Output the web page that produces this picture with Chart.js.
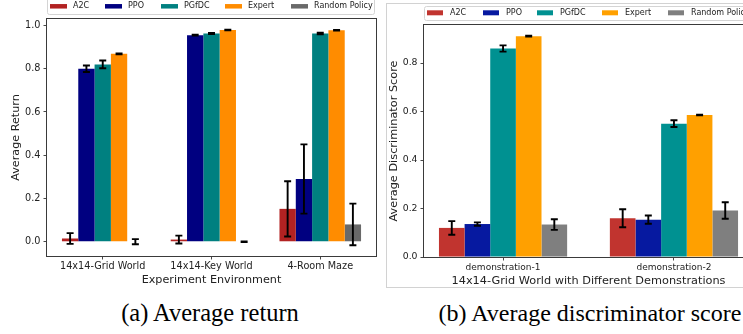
<!DOCTYPE html>
<html><head><meta charset="utf-8">
<script src="https://cdn.jsdelivr.net/npm/chart.js@4/dist/chart.umd.min.js"></script>
<style>
html,body{margin:0;padding:0;background:#fff;overflow:hidden;width:743px;height:334px;position:relative;}
#c1{position:absolute;left:0;top:0;}
#c2{position:absolute;left:386px;top:0;}
.cap{position:absolute;top:299px;line-height:28px;font-family:"Liberation Serif","Times New Roman",serif;font-size:24px;color:#000;white-space:nowrap;transform:translateX(-50%);}
</style></head><body>
<canvas id="c1" width="380" height="295"></canvas>
<canvas id="c2" width="374" height="295"></canvas>
<div class="cap" style="left:210px;font-size:24.5px">(a) Average return</div>
<div class="cap" style="left:590px">(b) Average discriminator score</div>
<script>
// ---------- data ----------
const methods = ['A2C', 'PPO', 'PGfDC', 'Expert', 'Random Policy'];

// (a) Average return
const envLabels = ['14x14-Grid World', '14x14-Key World', '4-Room Maze'];
const returnA2C     = [0.015, 0.010, 0.152];
const returnPPO     = [0.800, 0.955, 0.290];
const returnPGfDC   = [0.820, 0.963, 0.963];
const returnExpert  = [0.869, 0.979, 0.978];
const returnRandom  = [0.000, 0.000, 0.080];
const returnA2CErr    = [0.025, 0.018, 0.128];
const returnPPOErr    = [0.015, 0.002, 0.160];
const returnPGfDCErr  = [0.018, 0.003, 0.004];
const returnExpertErr = [0.002, 0.001, 0.001];
const returnRandomErr = [0.012, 0.001, 0.096];
const returnTicks = [0.0, 0.2, 0.4, 0.6, 0.8, 1.0];

// (b) Average discriminator score
const demoLabels = ['demonstration-1', 'demonstration-2'];
const scoreA2C    = [0.120, 0.160];
const scorePPO    = [0.136, 0.154];
const scorePGfDC  = [0.860, 0.550];
const scoreExpert = [0.911, 0.586];
const scoreRandom = [0.134, 0.192];
const scoreA2CErr    = [0.028, 0.037];
const scorePPOErr    = [0.007, 0.017];
const scorePGfDCErr  = [0.013, 0.014];
const scoreExpertErr = [0.002, 0.001];
const scoreRandomErr = [0.022, 0.034];
const scoreTicks = [0.0, 0.2, 0.4, 0.6, 0.8];

const colorsA = ['#b22222', '#000080', '#008080', '#ff8c00', '#696969'];
const colorsB = ['#c1342f', '#0619a0', '#009191', '#ffa000', '#7f7f7f'];

// ---------- helpers ----------
Chart.defaults.font.family = '"DejaVu Sans", sans-serif';
Chart.defaults.color = '#222';

function mkDatasets(series, errs, colors) {
  return series.map((vals, k) => ({
    label: methods[k],
    data: vals.map((v, i) => ({x: i, y: v})),
    errors: errs[k],
    backgroundColor: colors[k],
    borderWidth: 0,
    categoryPercentage: 0.75,
    barPercentage: 1.0
  }));
}

const errorBarPlugin = {
  id: 'errbars',
  afterDatasetsDraw(chart, args, o) {
    const ctx = chart.ctx, yS = chart.scales.y;
    ctx.save();
    ctx.strokeStyle = '#000';
    ctx.lineWidth = o.lw;
    chart.data.datasets.forEach((ds, di) => {
      const meta = chart.getDatasetMeta(di);
      meta.data.forEach((bar, i) => {
        const v = ds.data[i].y, e = ds.errors[i];
        const x = bar.x;
        const yt = yS.getPixelForValue(v + e), yb = yS.getPixelForValue(v - e);
        ctx.beginPath();
        ctx.moveTo(x, yt); ctx.lineTo(x, yb);
        ctx.moveTo(x - o.cap, yt); ctx.lineTo(x + o.cap, yt);
        ctx.moveTo(x - o.cap, yb); ctx.lineTo(x + o.cap, yb);
        ctx.stroke();
      });
    });
    ctx.restore();
  }
};

const framePlugin = {
  id: 'frame',
  beforeDraw(chart, args, o) {
    if (o.fig) {
      const ctx = chart.ctx;
      ctx.save();
      ctx.strokeStyle = '#d2d2d2';
      ctx.lineWidth = 1;
      ctx.strokeRect(o.fig.x + 0.5, o.fig.y + 0.5, o.fig.w, o.fig.h);
      ctx.restore();
    }
  },
  afterDraw(chart, args, o) {
    const ctx = chart.ctx, a = chart.chartArea;
    ctx.save();
    ctx.strokeStyle = '#3a3a3a';
    ctx.lineWidth = 1;
    ctx.strokeRect(Math.round(a.left) - 0.5, Math.round(a.top) - 0.5, a.right - a.left + 1, a.bottom - a.top + 1);
    ctx.restore();
  }
};

const legendPlugin = {
  id: 'mplLegend',
  afterDraw(chart, args, o) {
    const ctx = chart.ctx;
    ctx.save();
    ctx.beginPath();
    if (ctx.roundRect) ctx.roundRect(o.x + 0.5, o.y + 0.5, o.w, o.h, 2);
    else ctx.rect(o.x + 0.5, o.y + 0.5, o.w, o.h);
    ctx.fillStyle = 'rgba(255,255,255,0.85)';
    ctx.fill();
    ctx.strokeStyle = '#d4d4d4';
    ctx.lineWidth = 1;
    ctx.stroke();
    ctx.font = o.fontSize + 'px "DejaVu Sans"';
    ctx.textBaseline = 'middle';
    ctx.textAlign = 'left';
    chart.data.datasets.forEach((ds, i) => {
      const px = o.x + o.offsets[i];
      ctx.fillStyle = ds.backgroundColor;
      ctx.fillRect(px, o.cy - o.ph / 2, o.pw, o.ph);
      ctx.fillStyle = '#222';
      ctx.fillText(ds.label, px + o.pw + o.gap, o.cy);
    });
    ctx.restore();
  }
};

function mkChart(canvas, cfg) {
  return new Chart(canvas, {
    type: 'bar',
    data: {datasets: cfg.datasets},
    plugins: [errorBarPlugin, framePlugin, legendPlugin],
    options: {
      responsive: false,
      animation: false,
      devicePixelRatio: 1,
      layout: {autoPadding: false, padding: cfg.padding},
      plugins: {
        legend: {display: false},
        tooltip: {enabled: false},
        errbars: {lw: 1.9, cap: 3.5},
        frame: {fig: cfg.fig || null},
        mplLegend: cfg.legend
      },
      scales: {
        x: {
          type: 'linear',
          offset: false,
          min: cfg.xmin, max: cfg.xmax,
          afterBuildTicks: (s) => { s.ticks = cfg.xLabels.map((_, i) => ({value: i})); },
          afterFit: (s) => { s.height = cfg.xHeight; },
          grid: {display: true, offset: false, drawOnChartArea: false, drawTicks: true, tickLength: 3.5, color: '#333', lineWidth: 0.9},
          border: {display: false},
          ticks: {
            autoSkip: false, maxRotation: 0, minRotation: 0,
            padding: cfg.xTickPad,
            font: {size: cfg.xTickSize},
            color: '#222',
            callback: (v) => cfg.xLabels[v]
          },
          title: {display: true, text: cfg.xTitle, font: {size: cfg.titleSize}, color: '#222', padding: {top: 0, bottom: cfg.xTitlePad}}
        },
        y: {
          type: 'linear',
          min: cfg.ymin, max: cfg.ymax,
          afterBuildTicks: (s) => { s.ticks = cfg.yTicks.map(v => ({value: v})); },
          afterFit: (s) => { s.width = cfg.yWidth; },
          grid: {display: true, drawOnChartArea: false, drawTicks: true, tickLength: 3.5, color: '#333', lineWidth: 0.9},
          border: {display: false},
          ticks: {padding: 3, font: {size: cfg.yTickSize}, color: '#222', callback: (v) => Number(v).toFixed(1)},
          title: {display: true, text: cfg.yTitle, font: {size: cfg.titleSize}, color: '#222', padding: {top: cfg.yTitlePad, bottom: cfg.yTitlePad}}
        }
      }
    }
  });
}

mkChart(document.getElementById('c1'), {
  datasets: mkDatasets(
    [returnA2C, returnPPO, returnPGfDC, returnExpert, returnRandom],
    [returnA2CErr, returnPPOErr, returnPGfDCErr, returnExpertErr, returnRandomErr],
    colorsA),
  padding: {left: 0, top: 19, right: 4, bottom: 0},
  xmin: -0.5125, xmax: 2.5125,
  ymin: -0.066, ymax: 1.030,
  xLabels: envLabels, yTicks: returnTicks,
  xHeight: 39, yWidth: 47,
  xTickPad: 1, xTickSize: 9.7, yTickSize: 9.7,
  titleSize: 11.2, xTitlePad: 8.5, yTitlePad: 9.8,
  xTitle: 'Experiment Environment', yTitle: 'Average Return',
  legend: {x: 47, y: -3, w: 327, h: 17, cy: 6.3, ph: 4.5, pw: 17, gap: 6, fontSize: 8, offsets: [3, 58, 114, 178, 244]}
});

mkChart(document.getElementById('c2'), {
  datasets: mkDatasets(
    [scoreA2C, scorePPO, scorePGfDC, scoreExpert, scoreRandom],
    [scoreA2CErr, scorePPOErr, scorePGfDCErr, scoreExpertErr, scoreRandomErr],
    colorsB),
  padding: {left: 0, top: 25, right: 7, bottom: 0},
  xmin: -0.4625, xmax: 1.4625,
  ymin: 0, ymax: 0.957,
  xLabels: demoLabels, yTicks: scoreTicks,
  xHeight: 38, yWidth: 38,
  xTickPad: 2, xTickSize: 9, yTickSize: 9.3,
  titleSize: 11.3, xTitlePad: 7.3, yTitlePad: 1,
  xTitle: '14x14-Grid World with Different Demonstrations', yTitle: 'Average Discriminator Score',
  legend: {x: 38, y: 6, w: 345, h: 14, cy: 12.8, ph: 5, pw: 16, gap: 7, fontSize: 8, offsets: [3, 59, 113, 178, 244]},
  fig: {x: 0, y: 3, w: 400, h: 284}
});
</script>
</body></html>
